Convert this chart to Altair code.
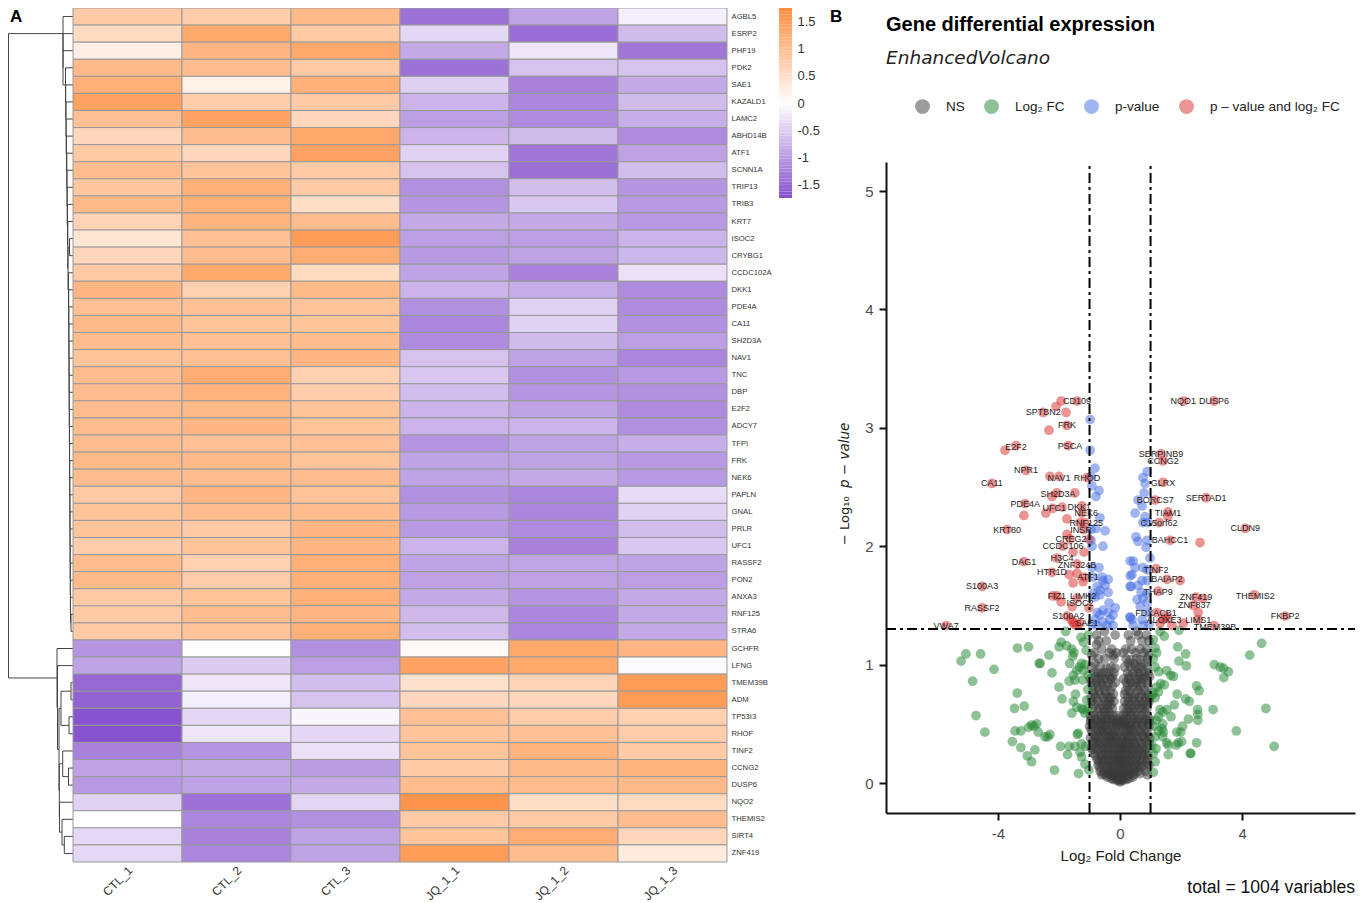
import altair as alt
import pandas as pd

FONT = "Liberation Sans"

# ---------- heatmap ----------
GENES = ["AGBL5","ESRP2","PHF19","PDK2","SAE1","KAZALD1","LAMC2","ABHD14B","ATF1","SCNN1A","TRIP13","TRIB3","KRT7","ISOC2","CRYBG1","CCDC102A","DKK1","PDE4A","CA11","SH2D3A","NAV1","TNC","DBP","E2F2","ADCY7","TFPI","FRK","NEK6","PAPLN","GNAL","PRLR","UFC1","RASSF2","PON2","ANXA3","RNF125","STRA6","GCHFR","LFNG","TMEM39B","ADM","TP53I3","RHOF","TINF2","CCNG2","DUSP6","NQO2","THEMIS2","SIRT4","ZNF419"]
SAMPLES = ["CTL_1","CTL_2","CTL_3","JQ_1_1","JQ_1_2","JQ_1_3"]
CTL_1 = [.8,.55,.25,1.05,1.2,1.4,.95,.6,.8,1.0,.85,1.05,.65,.4,.6,.8,1.1,.95,1.05,1.0,.9,1.0,1.0,1.0,1.0,1.0,1.05,1.0,.8,.9,.9,.75,1.0,1.05,.8,.8,.8,-1.05,-.9,-1.5,-1.55,-1.7,-1.7,-1.25,-.92,-1.0,-.45,0,-.38,-.38]
CTL_2 = [.75,1.3,1.1,1.0,.2,.75,1.4,1.0,.6,.9,1.2,1.2,1.15,.95,1.0,1.3,.7,.95,.9,.95,.95,1.25,1.15,1.05,1.1,.95,1.05,1.0,1.1,1.0,.8,.9,.7,.75,.9,1.0,.9,-.02,-.5,-.25,-.15,-.4,-.25,-1.05,-.85,-.9,-1.4,-1.2,-1.25,-1.2]
CTL_3 = [1.05,.8,1.3,.8,1.2,.8,.6,1.3,1.4,.8,.8,.5,1.0,1.5,1.25,.55,1.05,.9,.9,1.0,1.1,.7,.75,.9,.9,.95,.9,1.0,.9,1.0,1.1,1.1,1.2,1.2,1.2,1.1,1.2,-1.1,-.95,-.65,-.6,-.1,-.4,-.3,-.98,-.85,-.42,-1.1,-.9,-.9]
JQ_1 = [-1.4,-.39,-.85,-1.4,-.47,-.75,-.95,-.75,-.45,-.6,-1.1,-1.05,-.85,-.95,-1.0,-.9,-.75,-1.1,-1.2,-1.15,-.6,-.55,-.65,-.75,-.75,-1.05,-.9,-.9,-1.1,-1.0,-1.0,-.75,-.9,-.92,-.85,-.7,-.65,.1,1.4,.45,.6,.95,.9,.9,.8,1.0,1.6,.8,.9,1.5]
JQ_2 = [-.9,-1.45,-.25,-.6,-1.25,-1.2,-1.15,-.67,-1.35,-1.42,-.65,-.55,-.85,-.95,-.9,-1.25,-.8,-.45,-.45,-.67,-.9,-1.1,-1.05,-.9,-.75,-.9,-.9,-.85,-1.2,-1.2,-1.15,-1.25,-.88,-.92,-1.05,-1.2,-1.2,1.3,1.3,.65,.6,.75,.95,1.15,1.05,1.0,.5,.8,1.25,1.0]
JQ_3 = [-.15,-.67,-1.35,-.6,-.85,-.67,-.8,-1.15,-.92,-.65,-1.05,-1.0,-1.0,-.75,-.72,-.3,-1.15,-1.15,-1.1,-.95,-1.2,-1.0,-1.1,-1.15,-1.1,-.8,-1.0,-1.0,-.35,-.45,-.65,-.55,-.9,-.95,-.85,-.85,-.85,1.1,-.05,1.5,1.5,.7,.75,.8,1.15,1.05,.55,1.0,.6,.3]
COLUMNS = [CTL_1, CTL_2, CTL_3, JQ_1, JQ_2, JQ_3]

heat = pd.DataFrame([{"gene": g, "sample": s, "z": col[i]}
                     for s, col in zip(SAMPLES, COLUMNS) for i, g in enumerate(GENES)])

COLOR_DOMAIN = [-1.74, 0, 1.74]
COLOR_RANGE = ["#8450cc", "#ffffff", "#ff8c3c"]
heat_color = alt.Scale(domain=COLOR_DOMAIN, range=COLOR_RANGE, interpolate="rgb")

heat_chart = alt.Chart(heat).mark_rect(stroke="#999999", strokeWidth=1).encode(
    x=alt.X("sample:N", sort=SAMPLES, title=None,
            scale=alt.Scale(domain=SAMPLES, paddingInner=0, paddingOuter=0),
            axis=alt.Axis(labelAngle=-45, labelFontSize=12, labelColor="#333333", domain=False,
                          ticks=False, labelPadding=6, labelAlign="right", labelBaseline="middle",
                          labelOffset=3, labelFont=FONT)),
    y=alt.Y("gene:N", sort=GENES, title=None,
            scale=alt.Scale(domain=GENES, paddingInner=0, paddingOuter=0),
            axis=alt.Axis(orient="right", labelFontSize=7.7, labelColor="#333333", domain=False,
                          ticks=False, labelPadding=4, labelFont=FONT, labelOverlap=False)),
    color=alt.Color("z:Q", scale=heat_color, legend=None),
).properties(width=654, height=854)

# ---------- dendrogram ----------
TOP_CHAIN_HEIGHTS = [10, 10, 10, 7.5, 7.3, 7, 6.8, 6.5, 6.2, 6, 5.8, 5.5, 5.2, 5, 4.7, 4.5, 4.3, 4.2, 4.1, 4, 3.9, 3.8, 3.7, 3.6, 3.5, 3.4, 3.3, 3.2, 3.1, 3, 2.9, 2.8, 2.7, 2.6, 2.5]
TOP_PAIR_HEIGHT = 3.5
TOP_FINAL_PAIR_HEIGHT = 2

def chain():
    # rows 0..34 form a staircase, rows 13/14 and 35/36 are tight pairs
    node = (TOP_FINAL_PAIR_HEIGHT, 35, 36)
    row = 34
    idx = len(TOP_CHAIN_HEIGHTS) - 1
    while row >= 0:
        if row == 14:
            node = (TOP_CHAIN_HEIGHTS[13], (TOP_PAIR_HEIGHT, 13, 14), node)
            row -= 2
            idx -= 2
            continue
        node = (TOP_CHAIN_HEIGHTS[idx], row, node)
        row -= 1
        idx -= 1
    return node

LOWER_TREE = (16, 37, (15.5, 38, (14,
    (12, (2, 39, 40), (4, 41, 42)),
    (13.7, (10.3, 43, (4.5, 44, 45)), (13.5, 46, (11, 47, (8.7, 48, 49)))))))
ROOT_HEIGHT = 64.5
TREE = (ROOT_HEIGHT, chain(), LOWER_TREE)

segs = []
def walk(n):
    if isinstance(n, int):
        return n + 0.5, 0
    h, a, b = n
    ya, ha = walk(a)
    yb, hb = walk(b)
    segs.append({"x": h, "x2": h, "y": ya, "y2": yb})
    segs.append({"x": ha, "x2": h, "y": ya, "y2": ya})
    segs.append({"x": hb, "x2": h, "y": yb, "y2": yb})
    return (ya + yb) / 2, h
walk(TREE)

dendro = alt.Chart(pd.DataFrame(segs)).mark_rule(color="#444444", strokeWidth=1).encode(
    x=alt.X("x:Q", scale=alt.Scale(domain=[65, 0], nice=False, zero=False), axis=None),
    x2="x2:Q",
    y=alt.Y("y:Q", scale=alt.Scale(domain=[50, 0], nice=False, zero=False), axis=None),
    y2="y2:Q",
)

BLANK = alt.InlineData(values=[{"a": 1}])
def note(text, x, y, **kw):
    return alt.Chart(BLANK).mark_text(text=text, x=x, y=y, font=kw.pop("font", FONT), **kw)

dendro_panel = alt.layer(dendro, note("A", 2, 13.5, fontSize=17, fontWeight="bold", align="left", baseline="alphabetic", color="black")).properties(width=65, height=854)

# ---------- colour bar ----------
BAR_EDGES = [round(-1.74 + i * 0.06, 2) for i in range(58)]
bar = pd.DataFrame({"lo": BAR_EDGES, "hi": [round(e + 0.06, 2) for e in BAR_EDGES]})
bar["mid"] = (bar.lo + bar.hi) / 2
BAR_TICKS = [1.5, 1, 0.5, 0, -0.5, -1, -1.5]
MINUS_FIX = "replace(format(datum.value,'~g'),'\u2212','-')"

bar_chart = alt.Chart(bar).mark_rect().encode(
    x=alt.value(52), x2=alt.value(65),
    y=alt.Y("lo:Q", title=None, scale=alt.Scale(domain=[-1.74, 1.74], nice=False, zero=False),
            axis=alt.Axis(orient="right", offset=-89, domain=False, ticks=False, grid=False, labelPadding=0,
                          values=BAR_TICKS, labelExpr=MINUS_FIX, labelFontSize=13, labelColor="#333333",
                          labelFont=FONT)),
    y2="hi:Q",
    color=alt.Color("mid:Q", scale=heat_color, legend=None),
)
bar_panel = alt.layer(bar_chart, note("B", 103, 13.5, fontSize=17, fontWeight="bold", align="left", baseline="alphabetic", color="black")).properties(width=159, height=190)

# ---------- volcano ----------
GROUPS = ["NS", "Log\u2082 FC", "p-value", "p \u2013 value and log\u2082 FC"]
GROUP_COLORS = ["#3a3a3a", "#1f8430", "#4169e1", "#d62a2a"]

RED_X = [-1.93,-2.1,-1.41,-2.52,-1.77,-1.74,-2.33,-3.41,-3.77,-1.7,-3.08,-2.3,-2.0,-4.2,-1.08,-2.07,-2.23,-1.48,-3.11,-3.15,-2.43,-2.2,-1.9,-1.25,-1.74,-1.25,-1.15,-1.31,-1.2,-3.7,-1.74,-1.64,-1.02,-1.87,-1.54,-1.18,-2.07,-3.15,-1.41,-2.23,-1.67,-1.41,-1.18,-1.54,-1.21,-4.52,-2.2,-2.07,-1.93,-1.41,-1.57,-1.02,-4.52,-1.74,-1.54,-1.41,-1.6,-1.31,-5.7,-1.5,
         2.09,3.08,1.34,1.41,1.41,1.15,2.82,1.57,1.57,1.28,4.1,1.64,2.62,1.18,1.54,1.97,1.25,2.49,4.4,2.72,2.4,2.56,5.41,1.21,1.48,1.41,1.57,1.31,1.7,2.07,2.56,3.08]
RED_Y = [3.226,3.18,3.226,3.13,3.13,3.02,2.98,2.85,2.81,2.85,2.64,2.59,2.59,2.53,2.58,2.45,2.42,2.45,2.36,2.26,2.28,2.32,2.33,2.34,2.23,2.28,2.2,2.2,2.14,2.14,2.1,2.06,2.06,2.0,1.95,1.95,1.9,1.87,1.85,1.78,1.76,1.77,1.74,1.69,1.7,1.66,1.58,1.58,1.53,1.56,1.49,1.48,1.48,1.41,1.36,1.33,1.38,1.35,1.33,1.34,
         3.226,3.226,2.78,2.72,2.54,2.39,2.41,2.29,2.25,2.2,2.15,2.05,2.03,1.81,1.72,1.71,1.62,1.57,1.59,1.56,1.5,1.44,1.41,1.44,1.41,1.38,1.39,1.35,1.33,1.35,1.38,1.33]
BLUE_X = [-.98,-.98,-.82,-.95,-.92,-.69,-.79,-.66,-.79,-.49,-.95,-.95,-.92,-.56,.33,-.92,-.69,.33,-.89,-.59,-.39,-.56,-.49,-.75,.33,-.66,-.39,-.89,-.66,-.82,-.36,-.16,-.56,-.75,-.66,-.39,-.23,.33,-.33,-.82,-.56,-.23,-.75,-.43,-.92,
          .89,.75,.82,.79,.59,.72,.49,.82,.75,.92,.89,.52,.59,.85,.98,.43,.49,.75,.89,.39,.72,.89,.36,.59,.69,.89,.56,.75,.89,.66,.33,.39,.72,.89,.43,.75,.95]
BLUE_Y = [3.07,2.81,2.66,2.59,2.51,2.47,2.42,2.24,2.15,2.13,2.14,2.05,2.0,2.0,1.875,1.82,1.82,1.75,1.74,1.74,1.72,1.71,1.67,1.66,1.66,1.63,1.61,1.6,1.59,1.57,1.52,1.48,1.46,1.44,1.42,1.44,1.42,1.4,1.38,1.38,1.36,1.33,1.33,1.33,1.34,
          2.63,2.58,2.53,2.45,2.39,2.34,2.28,2.25,2.2,2.2,2.05,2.08,2.04,1.99,1.9,1.875,1.82,1.82,1.8,1.76,1.71,1.71,1.66,1.67,1.61,1.6,1.55,1.56,1.52,1.49,1.4,1.38,1.38,1.44,1.33,1.33,1.34]
GREEN_X = [-1.78,-5.05,-5.21,-4.57,-3.36,-3.0,-4.13,-4.83,-3.37,-3.46,-3.14,-4.72,-4.43,-3.53,-3.25,-2.79,-3.04,-2.9,-2.15,-1.36,-3.44,-3.25,-3.0,-2.9,-2.73,-2.82,-2.68,-2.46,-2.3,-2.37,-2.62,-2.65,-2.33,-2.23,-2.0,-1.9,-2.0,-1.93,-1.75,-1.58,-1.51,-1.55,-1.65,-1.28,-1.2,-1.04,-1.11,-1.26,-1.33,-1.15,-1.2,-1.42,-1.53,-1.67,-1.48,-1.23,-1.04,-1.06,-1.46,-1.53,-1.09,-1.42,-1.58,-1.26,-1.15,-1.2,-1.04,-1.4,-1.37,-1.95,-1.67,-1.72,-1.48,-1.26,-1.31,-1.13,-1.26,-1.15,-1.02,
           1.31,1.45,1.93,1.09,1.89,2.15,1.93,2.17,1.2,1.15,1.09,1.15,1.27,1.53,1.66,1.75,1.33,1.45,1.2,1.09,1.26,1.04,1.15,2.51,2.59,1.87,2.15,2.27,1.78,3.09,3.28,3.39,3.55,3.4,4.25,4.64,4.78,3.81,5.05,3.05,2.54,2.55,2.55,2.24,2.05,1.99,1.86,2.02,1.91,2.51,1.84,1.58,1.53,2.32,2.3,1.58,1.31,1.53,1.4,1.67,1.18,1.26,1.09,1.4,1.26,1.37,1.42,1.15,1.4,1.18,1.09,1.15,1.09,1.04]
GREEN_Y = [1.28,1.09,1.03,1.09,1.14,1.15,.96,.86,.76,.63,.65,.57,.43,.35,.3,.28,.23,.18,.11,.08,.44,.44,.47,.49,.5,.48,.43,.39,.41,.39,1.01,1.01,1.08,.93,.81,.71,1.15,1.19,1.16,1.13,1.1,1.07,1.01,1.23,1.19,1.25,1.12,1.01,.98,1.0,.95,.95,.91,.86,.87,.87,.91,.79,.75,.69,.7,.64,.59,.63,.59,.62,.63,.41,.42,.31,.31,.24,.31,.33,.26,.31,.22,.16,.11,
           1.28,1.24,1.29,1.21,1.15,1.09,1.03,.99,1.1,1.14,1.05,.98,.94,.95,.91,.9,.84,.83,.81,.76,.77,.74,.72,.82,.78,.75,.71,.69,.66,1.0,.98,.97,.94,.89,1.08,1.18,.63,.44,.31,.62,.62,.58,.53,.54,.48,.43,.43,.35,.34,.34,.32,.32,.34,.25,.25,.24,.62,.62,.6,.56,.53,.56,.48,.5,.44,.46,.43,.39,.39,.29,.25,.18,.09,.32]

GRAY_ROWS = [
 (1.28,[-.51,.55]),(1.25,[-.77,-.16,.27,.6,.87]),(1.2,[-.7,-.45,.35,.72,.95]),(1.17,[-.77]),(1.13,[-.6,-.27,.19,.38,.66,.87]),
 (1.1,[-.85,-.35,-.12,.1,.5,.78]),(1.08,[-.93,-.22,.93]),(1.05,[-.7,-.5,-.2,.2,.55,.9]),(1.04,[.33,.66]),(1.01,[-.82,.27,.45,.8]),
 (.98,[-.93,-.65,-.3,.15,.35,.52,.7,.88]),(.97,[-.44,-.16,.6]),(.93,[-.85,-.72,-.55,-.45,-.2,.25,.42,.6,.78,.92]),
 (.9,[-.8,-.62,-.35,-.25,.3,.48,.65,.82,.97]),(.88,[-.97,-.68,-.5,-.3,.12,.28,.58,.75]),(.85,[-.95,-.78,-.62,-.4,-.15,.2,.35,.52,.7,.88]),
 (.82,[-.9,-.72,-.58,-.42,-.25,.25,.42,.55,.68,.92]),(.78,[-.88,-.7,-.5,-.32,.18,.3,.6,.8]),(.75,[-.85,-.65,-.45,-.22,.15,.35,.5,.7,.9]),
 (.72,[-.95,-.8,-.55,-.38,-.3,.25,.42,.62,.85,.97]),(.69,[-.92,-.72,-.5,-.35,-.2,.15,.3,.48,.65,.8,.95]),
 (.66,[-.85,-.6,-.42,-.3,.22,.38,.55,.72,.9]),(.63,[-.9,-.68,-.55,-.4,-.25,.12,.28,.45,.62,.75,.88]),(.6,[-.72,-.5,-.35,.2,.35,.5,.8]),
 (.57,[-.97,-.85,-.65,-.5,-.38,-.22,-.08,.1,.22,.38,.55,.7,.88]),(.54,[-.95,-.8,-.6,-.45,-.25,-.1,.1,.25,.45,.62,.82,.97]),
 (.52,[-.97,-.78,-.62,-.45,-.28,-.12,0,.14,.38,.56,.78,.95]),(.5,[-.88,-.7,-.55,-.35,-.18,-.05,.08,.18,.3,.5,.7,.9]),
 (.48,[-1.,-.82,-.65,-.48,-.25,-.08,.05,.22,.35,.55,.75,.95]),(.45,[-.95,-.75,-.6,-.45,-.3,-.15,.12,.28,.4,.6,.8]),
 (.43,[-.9,-.65,-.55,-.4,-.2,-.02,.18,.32,.48,.68,.88]),(.4,[-.85,-.7,-.5,-.35,-.22,-.1,.05,.2,.35,.55,.75,.92]),
 (.38,[-.97,-.8,-.62,-.4,-.28,-.12,.1,.25,.42,.6,.82,.97]),(.35,[-.9,-.75,-.6,-.45,-.3,-.15,.02,.15,.3,.45,.65,.85]),
 (.33,[-.85,-.68,-.52,-.36,-.2,-.06,.08,.22,.36,.5,.72,.95]),(.3,[-.95,-.8,-.6,-.42,-.28,-.12,0,.12,.25,.4,.55,.72,.9]),
 (.28,[-.9,-.72,-.55,-.38,-.22,-.04,.06,.18,.32,.46,.62,.8]),(.25,[-.85,-.65,-.5,-.35,-.2,-.06,.08,.22,.38,.52,.7,.85]),
 (.23,[-.8,-.6,-.44,-.26,-.12,0,.14,.28,.42,.58,.76,.92]),(.2,[-.75,-.62,-.48,-.32,-.18,-.05,.07,.2,.35,.5,.66,.9]),
 (.18,[-.7,-.54,-.38,-.22,-.08,.02,.12,.26,.4,.56,.72,.88]),(.15,[-.72,-.55,-.4,-.25,-.1,.04,.18,.32,.48,.62,.82,.95]),
 (.13,[-.66,-.44,-.3,-.14,0,.1,.24,.38,.54,.7]),(.1,[-.65,-.5,-.35,-.2,-.08,.05,.15,.3,.45,.6,.85]),
 (.08,[-.55,-.38,-.24,-.1,.08,.2,.34,.5,.66]),(.07,[-.6,-.45,-.3,-.15,0,.14,.28,.42,.9]),
 (.05,[-.42,-.12,.12,.42]),(.04,[-.3,-.18,-.06,.06,.18,.3]),(.03,[-.22,.22,-.04,.04]),(.02,[-.1,0,.1]),(.01,[0]),
]

rows = [{"fc": x, "p": y, "g": GROUPS[0]} for y, xs_ in GRAY_ROWS for x in xs_]
rows += [{"fc": x, "p": y, "g": GROUPS[1]} for x, y in zip(GREEN_X, GREEN_Y)]
rows += [{"fc": x, "p": y, "g": GROUPS[2]} for x, y in zip(BLUE_X, BLUE_Y)]
rows += [{"fc": x, "p": y, "g": GROUPS[3]} for x, y in zip(RED_X, RED_Y)]
points = pd.DataFrame(rows)

LABEL_NAMES = ["CD109","SPTBN2","FRK","E2F2","PSCA","NPR1","NAV1","RHOD","CA11","SH2D3A","PDE4A","UFC1","DKK1","NEK6","RNF125","KRT80","INSR","CREG2","CCDC106","H3C4","DAG1","ZNF324B","HTR1D","ATF1","S100A3","FIZ1","LIMK2","ISOC2","RASSF2","S100A2","SAE1","VWA7",
               "NQO1","DUSP6","SERPINB9","CCNG2","GLRX","BORCS7","SERTAD1","TIAM1","C15orf62","CLDN9","BAHCC1","TINF2","BAIAP2","THAP9","THEMIS2","ZNF419","ZNF837","FDXACB1","FKBP2","LIMS1","ALOXE3","TMEM39B"]
LABEL_X = [-1.41,-2.52,-1.74,-3.41,-1.64,-3.08,-2,-1.08,-4.2,-2.03,-3.11,-2.16,-1.34,-1.11,-1.11,-3.7,-1.28,-1.61,-1.87,-1.9,-3.15,-1.41,-2.23,-1.05,-4.52,-2.07,-1.21,-1.31,-4.52,-1.7,-1.08,-5.7,
           2.07,3.08,1.34,1.41,1.41,1.15,2.82,1.57,1.28,4.1,1.64,1.18,1.54,1.25,4.43,2.49,2.43,1.18,5.41,2.56,1.44,3.11]
LABEL_Y = [3.23,3.13,3.02,2.84,2.85,2.64,2.58,2.58,2.53,2.44,2.36,2.32,2.33,2.28,2.2,2.14,2.14,2.06,2,1.9,1.87,1.84,1.78,1.74,1.66,1.58,1.58,1.52,1.48,1.41,1.35,1.33,
           3.23,3.23,2.78,2.72,2.53,2.39,2.41,2.28,2.2,2.15,2.05,1.8,1.72,1.61,1.58,1.57,1.5,1.44,1.41,1.38,1.38,1.32]
labels = pd.DataFrame({"name": LABEL_NAMES, "fc": LABEL_X, "p": LABEL_Y})

X_DOM = [-7.67, 7.7]
Y_DOM = [-0.253, 5.245]
xs = alt.Scale(domain=X_DOM, nice=False, zero=False)
ys = alt.Scale(domain=Y_DOM, range=[805, 154], nice=False, zero=False)

pt = alt.Chart(points).mark_circle(size=95, opacity=0.5).encode(
    x=alt.X("fc:Q", scale=xs, title="Log\u2082 Fold Change",
            axis=alt.Axis(values=[-4, 0, 4], labelExpr=MINUS_FIX, grid=False, labelFontSize=15, labelColor="#4d4d4d",
                          domainColor="#111111", domainWidth=2, tickColor="#111111", tickWidth=2, tickSize=7,
                          titleFontSize=15, titleFontWeight="normal", titleColor="#222222", titlePadding=7,
                          labelPadding=6, labelFont=FONT, titleFont=FONT)),
    y=alt.Y("p:Q", scale=ys, title=None,
            axis=alt.Axis(values=[0, 1, 2, 3, 4, 5], labelExpr=MINUS_FIX, grid=False, labelFontSize=15, labelColor="#4d4d4d",
                          domainColor="#111111", domainWidth=2, tickColor="#111111", tickWidth=2, tickSize=7,
                          labelPadding=6, labelFont=FONT)),
    color=alt.Color("g:N", scale=alt.Scale(domain=GROUPS, range=GROUP_COLORS), sort=GROUPS,
                    legend=alt.Legend(orient="none", legendX=29, legendY=91, direction="horizontal", title=None,
                                      symbolSize=220, symbolOpacity=0.5, symbolStrokeWidth=0, symbolType="circle",
                                      labelFontSize=13.5, labelFont=FONT, labelColor="#222222", labelOffset=16,
                                      columnPadding=19, columns=4, labelLimit=300)),
)

txt = alt.Chart(labels).mark_text(fontSize=9, font=FONT, color="#222222").encode(
    x=alt.X("fc:Q", scale=xs), y=alt.Y("p:Q", scale=ys), text="name:N")

FC_CUT = [-1, 1]
P_CUT = [1.3]
DASH = [10, 4, 3, 4]
v_rule = alt.Chart(pd.DataFrame({"c": FC_CUT, "a": Y_DOM[0], "b": Y_DOM[1]})).mark_rule(color="black", strokeWidth=2, strokeDash=DASH).encode(
    x=alt.X("c:Q", scale=xs), y=alt.Y("a:Q", scale=ys), y2="b:Q")
h_rule = alt.Chart(pd.DataFrame({"c": P_CUT, "a": X_DOM[0], "b": X_DOM[1]})).mark_rule(color="black", strokeWidth=2, strokeDash=DASH).encode(
    y=alt.Y("c:Q", scale=ys), x=alt.X("a:Q", scale=xs), x2="b:Q")

volcano = alt.layer(
    pt, v_rule, h_rule, txt,
    note("Gene differential expression", 0, 17, fontSize=20, fontWeight="bold", align="left", color="black"),
    note("EnhancedVolcano", 0, 50, fontSize=18.5, fontStyle="italic", align="left", color="#222222", font="DejaVu Sans"),
    note("\u2212 Log\u2081\u2080", -41, 537, fontSize=13, angle=270, align="left", color="#222222", font="DejaVu Sans"),
    note("p \u2212 value", -41, 480, fontSize=13.5, angle=270, align="left", fontStyle="italic", color="#222222", font="DejaVu Sans"),
    note("total = 1004 variables", 469, 880, fontSize=17.6, align="right", color="#111111"),
).properties(width=469, height=805)

chart = alt.hconcat(dendro_panel, heat_chart, bar_panel, volcano, spacing=0, bounds="flush",
                    padding={"left": -1, "top": -1, "right": 0, "bottom": 0}).configure_view(stroke=None)

chart.save("out.html", embed_options={"renderer": "svg", "actions": False})
